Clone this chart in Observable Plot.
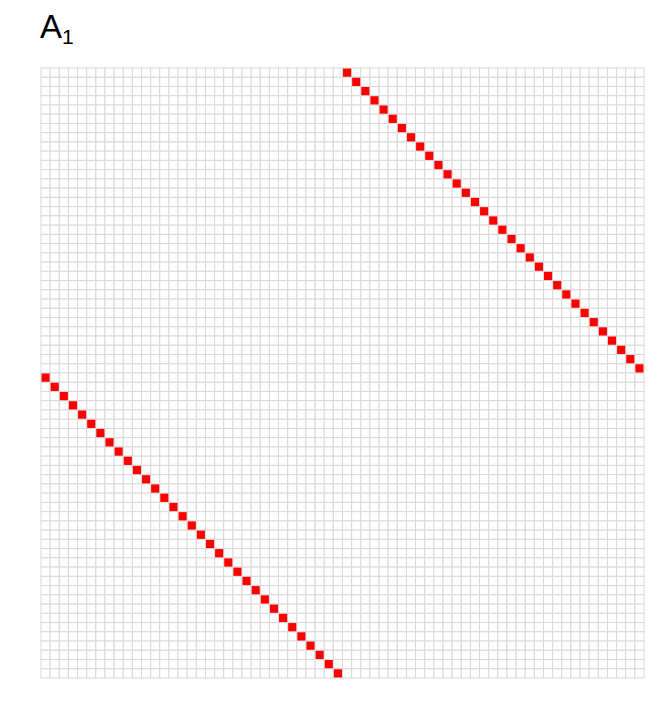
<!DOCTYPE html>
<html>
<head>
<meta charset="utf-8">
<script src="https://cdn.jsdelivr.net/npm/d3@7"></script>
<script src="https://cdn.jsdelivr.net/npm/@observablehq/plot@0.6"></script>
<style>
  body { margin: 0; background: #fff; }
  #wrap { position: relative; width: 660px; height: 720px; }
  #title { position: absolute; left: 40px; top: 8px; font-family: "Liberation Sans", Arial, sans-serif; font-size: 33px; color: #000; }
  #title sub { font-size: 21px; vertical-align: -6px; }
</style>
</head>
<body>
<div id="wrap"><div id="title">A<sub>1</sub></div><div id="chart"></div></div>
<script>
// Matrix size and the non-zero entries (row index -> column index)
const size = 66;
const rowIdx = [0,1,2,3,4,5,6,7,8,9,10,11,12,13,14,15,16,17,18,19,20,21,22,23,24,25,26,27,28,29,30,31,32,33,34,35,36,37,38,39,40,41,42,43,44,45,46,47,48,49,50,51,52,53,54,55,56,57,58,59,60,61,62,63,64,65];
const colIdx = [33,34,35,36,37,38,39,40,41,42,43,44,45,46,47,48,49,50,51,52,53,54,55,56,57,58,59,60,61,62,63,64,65,0,1,2,3,4,5,6,7,8,9,10,11,12,13,14,15,16,17,18,19,20,21,22,23,24,25,26,27,28,29,30,31,32];

const allCells = [];
for (const r of rowIdx) for (const c of rowIdx) allCells.push({r, c});
const ones = rowIdx.map((r, i) => ({r, c: colIdx[i]}));

const chart = Plot.plot({
  width: 660,
  height: 720,
  marginTop: 68,
  marginBottom: 42,
  marginLeft: 41,
  marginRight: 16,
  x: {type: "band", domain: rowIdx, padding: 0, round: false, axis: null},
  y: {type: "band", domain: rowIdx, padding: 0, round: false, axis: null},
  style: {background: "white"},
  marks: [
    Plot.cell(allCells, {x: "c", y: "r", fill: "white", stroke: "#d9d9d9", strokeWidth: 1}),
    Plot.cell(ones, {x: "c", y: "r", fill: "#ff0000", inset: 0.5})
  ]
});
document.getElementById("chart").appendChild(chart);
</script>
</body>
</html>
